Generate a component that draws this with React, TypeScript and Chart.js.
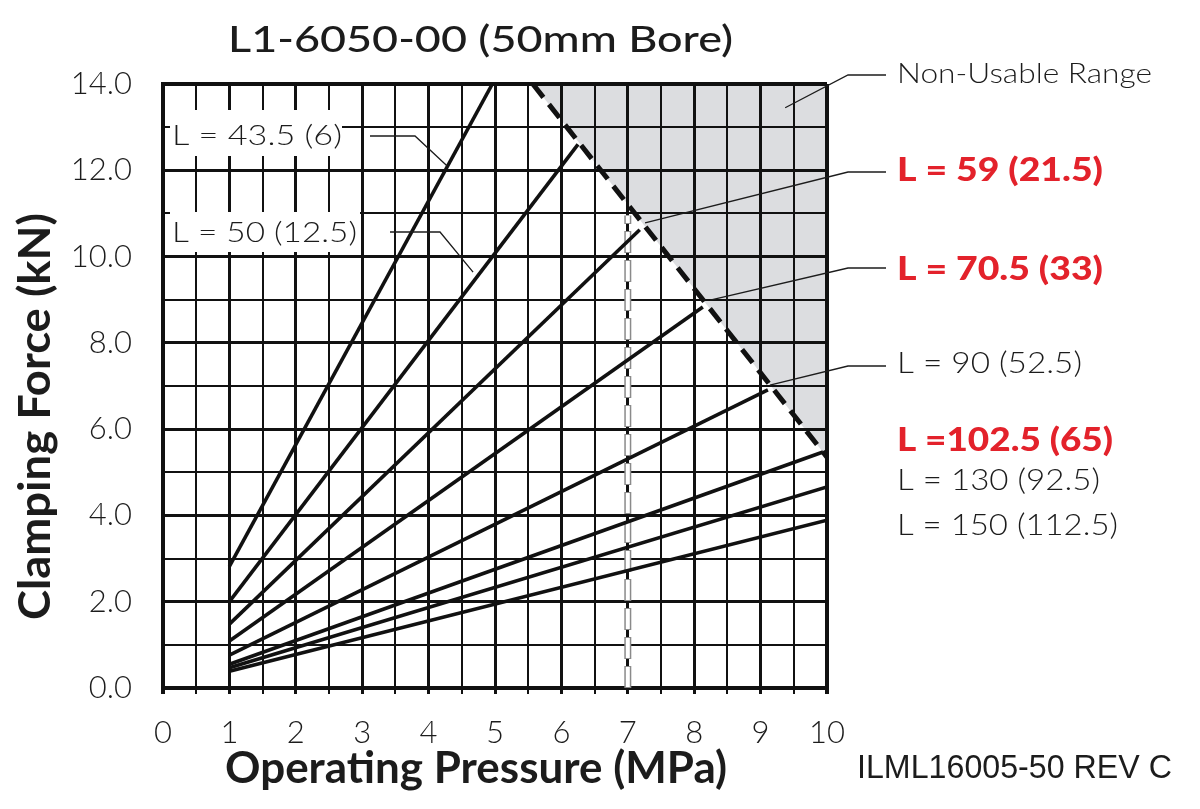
import React, { useEffect, useRef } from 'react';
import { Chart, registerables } from 'chart.js';

Chart.register(...registerables);

// ---- chart data -------------------------------------------------------
const seriesLabels = [
  'L = 43.5 (6)',
  'L = 50 (12.5)',
  'L = 59 (21.5)',
  'L = 70.5 (33)',
  'L = 90 (52.5)',
  'L =102.5 (65)',
  'L = 130 (92.5)',
  'L = 150 (112.5)',
];
// every curve starts at 1 MPa
const startPressure = [1, 1, 1, 1, 1, 1, 1, 1];
const startForce = [2.82, 2.0, 1.48, 1.09, 0.76, 0.55, 0.47, 0.39];
// curves stop at the non-usable boundary or the chart edge
const endPressure = [4.96, 6.25, 7.18, 8.13, 9.11, 9.94, 10, 10];
const endForce = [14.0, 12.6, 10.62, 8.83, 6.91, 5.47, 4.66, 3.89];

// boundary of the non-usable range
const limitPressure = [5.57, 10];
const limitForce = [14.0, 5.35];

// rated pressure marker
const ratedPressure = [7, 7];
const ratedForce = [0, 10.95];

// axes
const pressureMin = 0;
const pressureMax = 10;
const pressureStep = 0.5;
const forceMin = 0;
const forceMax = 14;
const forceStep = 1;

const titleText = 'L1-6050-00 (50mm Bore)';
const xTitleText = 'Operating Pressure (MPa)';
const yTitleText = 'Clamping Force (kN)';
const docRefText = 'ILML16005-50 REV C';
const rangeText = 'Non-Usable Range';

// ---- styling ----------------------------------------------------------
const RED = '#e3222b';
const INK = '#1c1c1c';
const SHADE = '#dcdde0';
const FONT = 'Lato, "Open Sans", sans-serif';

type TextSpec = {
  text: string;
  left: number;
  baseline: number;
  cap: number;
  width: number;
  weight: string;
  color: string;
  family?: string;
};

function drawFitted(ctx: CanvasRenderingContext2D, s: TextSpec) {
  const size = s.cap / 0.72;
  ctx.save();
  ctx.font = `${s.weight} ${size}px ${s.family || FONT}`;
  const w = ctx.measureText(s.text).width;
  ctx.translate(s.left, s.baseline);
  ctx.scale(s.width / w, 1);
  ctx.fillStyle = s.color;
  ctx.textAlign = 'left';
  ctx.textBaseline = 'alphabetic';
  ctx.fillText(s.text, 0, 0);
  ctx.restore();
}

// label block on the right, with the leader pointing into the plot
const rightLabels = [
  { text: rangeText, baseline: 83, cap: 20, width: 255, weight: '300', color: INK, leaderY: 75, anchor: [9.37, 13.45] },
  { text: seriesLabels[2], baseline: 181, cap: 23, width: 206, weight: '900', color: RED, leaderY: 172, anchor: [7.26, 10.78] },
  { text: seriesLabels[3], baseline: 280, cap: 23, width: 206, weight: '900', color: RED, leaderY: 268, anchor: [8.24, 8.99] },
  { text: seriesLabels[4], baseline: 373, cap: 21, width: 185, weight: '300', color: INK, leaderY: 366, anchor: [9.14, 7.02] },
  { text: seriesLabels[5], baseline: 451, cap: 23, width: 216, weight: '900', color: RED, leaderY: null, anchor: null },
  { text: seriesLabels[6], baseline: 490, cap: 21, width: 203, weight: '300', color: INK, leaderY: null, anchor: null },
  { text: seriesLabels[7], baseline: 535, cap: 21, width: 221, weight: '300', color: INK, leaderY: null, anchor: null },
];

// boxed labels inside the plot area, upper left
const boxedLabels = [
  { text: seriesLabels[0], box: [170, 110, 172, 46], baseline: 145, cap: 20, width: 170, lead: [370, 415, 136], anchor: [4.28, 12.1] },
  { text: seriesLabels[1], box: [170, 212, 190, 40], baseline: 242, cap: 20, width: 185, lead: [390, 440, 232], anchor: [4.67, 9.64] },
];

const annotationPlugin = {
  id: 'annotations',
  afterDatasetsDraw(chart: any) {
    const ctx: CanvasRenderingContext2D = chart.ctx;
    const xs = chart.scales.x;
    const ys = chart.scales.y;
    ctx.save();
    boxedLabels.forEach((b) => {
      ctx.fillStyle = '#ffffff';
      ctx.fillRect(b.box[0], b.box[1], b.box[2], b.box[3]);
      drawFitted(ctx, {
        text: b.text, left: 172, baseline: b.baseline, cap: b.cap, width: b.width, weight: '300', color: INK,
      });
      ctx.beginPath();
      ctx.lineWidth = 1.3;
      ctx.strokeStyle = INK;
      ctx.moveTo(b.lead[0], b.lead[2]);
      ctx.lineTo(b.lead[1], b.lead[2]);
      ctx.lineTo(xs.getPixelForValue(b.anchor[0]), ys.getPixelForValue(b.anchor[1]));
      ctx.stroke();
    });
    ctx.restore();
  },
  afterDraw(chart: any) {
    const ctx: CanvasRenderingContext2D = chart.ctx;
    const xs = chart.scales.x;
    const ys = chart.scales.y;
    ctx.save();

    // leaders from the right-hand labels
    rightLabels.forEach((r) => {
      if (r.leaderY === null || !r.anchor) return;
      ctx.beginPath();
      ctx.lineWidth = 1.3;
      ctx.strokeStyle = INK;
      ctx.moveTo(886, r.leaderY);
      ctx.lineTo(848, r.leaderY);
      ctx.lineTo(xs.getPixelForValue(r.anchor[0]), ys.getPixelForValue(r.anchor[1]));
      ctx.stroke();
    });
    rightLabels.forEach((r) => {
      drawFitted(ctx, {
        text: r.text, left: 897, baseline: r.baseline, cap: r.cap, width: r.width, weight: r.weight, color: r.color,
      });
    });

    // chart title
    drawFitted(ctx, { text: titleText, left: 228, baseline: 52, cap: 27, width: 505, weight: '500', color: INK });
    // x axis title
    drawFitted(ctx, { text: xTitleText, left: 225, baseline: 783, cap: 32, width: 502, weight: '700', color: INK });
    // document reference
    drawFitted(ctx, {
      text: docRefText, left: 857, baseline: 778, cap: 24, width: 315, weight: '400', color: INK,
      family: '"Liberation Sans", Arial, sans-serif',
    });

    // y axis title, rotated
    const yCap = 32;
    ctx.font = `700 ${yCap / 0.72}px ${FONT}`;
    const yw = ctx.measureText(yTitleText).width;
    ctx.translate(50, 416.5);
    ctx.rotate(-Math.PI / 2);
    ctx.scale(407 / yw, 1);
    ctx.fillStyle = INK;
    ctx.textAlign = 'center';
    ctx.textBaseline = 'alphabetic';
    ctx.fillText(yTitleText, 0, 0);
    ctx.restore();
  },
};

function pts(xv: number[], yv: number[]) {
  return xv.map((x, i) => ({ x, y: yv[i] }));
}

export default function App() {
  const canvasRef = useRef<HTMLCanvasElement | null>(null);

  useEffect(() => {
    const canvas = canvasRef.current;
    if (!canvas) return;

    const seriesSets = seriesLabels.map((label, i) => ({
      label,
      data: pts([startPressure[i], endPressure[i]], [startForce[i], endForce[i]]),
      borderColor: '#111111',
      borderWidth: 3.6,
      pointRadius: 0,
      showLine: true,
      fill: false,
      order: 0,
    }));

    const chart = new Chart(canvas, {
      type: 'scatter',
      data: {
        datasets: [
          ...seriesSets,
          {
            label: rangeText,
            data: pts(limitPressure, limitForce),
            borderColor: '#111111',
            borderWidth: 5,
            borderDash: [17, 9],
            backgroundColor: SHADE,
            fill: 'end',
            pointRadius: 0,
            showLine: true,
            order: 1,
          },
          {
            label: 'rated',
            data: pts(ratedPressure, ratedForce),
            borderColor: '#ffffff',
            borderWidth: 4,
            borderDash: [20, 9],
            borderDashOffset: -1,
            pointRadius: 0,
            showLine: true,
            fill: false,
            order: 2,
          },
          {
            label: 'rated-edge',
            data: pts(ratedPressure, ratedForce),
            borderColor: '#8a8a8a',
            borderWidth: 7,
            borderDash: [22, 7],
            pointRadius: 0,
            showLine: true,
            fill: false,
            order: 3,
          },
        ],
      },
      options: {
        responsive: false,
        animation: false,
        devicePixelRatio: 1,
        layout: { padding: { left: 0, right: 373, top: 84, bottom: 0 } },
        plugins: {
          legend: { display: false },
          tooltip: { enabled: false },
          title: { display: false },
          filler: { drawTime: 'beforeDraw' },
        },
        scales: {
          x: {
            type: 'linear',
            min: pressureMin,
            max: pressureMax,
            afterFit: (s: any) => { s.height = 121; },
            ticks: {
              stepSize: pressureStep,
              autoSkip: false,
              maxRotation: 0,
              maxTicksLimit: 100,
              padding: 20,
              color: INK,
              font: { family: FONT, size: 31, weight: '300' },
              callback: (v: any) => (Number.isInteger(v) ? String(v) : ''),
            },
            grid: {
              color: '#111111',
              tickColor: '#111111',
              tickLength: 6,
              drawTicks: true,
              lineWidth: (c: any) => {
                const v = c.tick ? c.tick.value : 1;
                if (v === pressureMin || v === pressureMax) return 4;
                return Number.isInteger(v) ? 3 : 2;
              },
            },
            border: { display: true, color: '#111111', width: 4 },
          },
          y: {
            type: 'linear',
            min: forceMin,
            max: forceMax,
            afterFit: (s: any) => { s.width = 163; },
            ticks: {
              stepSize: forceStep,
              autoSkip: false,
              maxTicksLimit: 100,
              padding: 31,
              color: INK,
              font: { family: FONT, size: 31, weight: '300' },
              callback: (v: any) => (v % 2 === 0 ? Number(v).toFixed(1) : ''),
            },
            grid: {
              color: '#111111',
              drawTicks: false,
              lineWidth: (c: any) => {
                const v = c.tick ? c.tick.value : 1;
                if (v === forceMin || v === forceMax) return 4;
                return v % 2 === 0 ? 3 : 2;
              },
            },
            border: { display: true, color: '#111111', width: 4 },
          },
        },
      } as any,
      plugins: [annotationPlugin],
    });

    return () => chart.destroy();
  }, []);

  return (
    <div style={{ position: 'absolute', left: 0, top: 0, width: 1200, height: 809, background: '#ffffff' }}>
      <canvas ref={canvasRef} width={1200} height={809} style={{ display: 'block', width: 1200, height: 809 }} />
    </div>
  );
}
